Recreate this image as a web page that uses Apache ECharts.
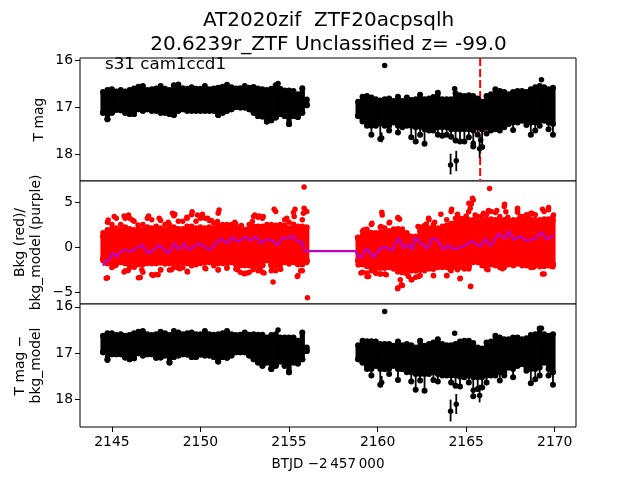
<!DOCTYPE html>
<html><head><meta charset="utf-8">
<style>html,body{margin:0;padding:0;background:#fff}#c{width:640px;height:480px}</style>
<script src="https://cdn.jsdelivr.net/npm/echarts@6/dist/echarts.min.js"></script>
</head><body><div id="c"></div>
<script>
const titleLines = "AT2020zif  ZTF20acpsqlh\n20.6239r_ZTF Unclassified z= -99.0";
const sectorLabel = "s31 cam1ccd1";
const xName = "BTJD \u22122\u2009457\u2009000";
const xTicks = [2145,2150,2155,2160,2165,2170];
const magTicks = [16,17,18];
const bkgTicks = [-5,0,5];
const eventDay = 2165.79;

const daysLeft = [2144.5,2144.75,2145,2145.25,2145.5,2145.75,2146,2146.25,2146.5,2146.75,2147,2147.25,2147.5,2147.75,2148,2148.25,2148.5,2148.75,2149,2149.25,2149.5,2149.75,2150,2150.25,2150.5,2150.75,2151,2151.25,2151.5,2151.75,2152,2152.25,2152.5,2152.75,2153,2153.25,2153.5,2153.75,2154,2154.25,2154.5,2154.75,2155,2155.25,2155.5,2155.75,2156];
const daysRight = [2158.9,2159.15,2159.4,2159.65,2159.9,2160.15,2160.4,2160.65,2160.9,2161.15,2161.4,2161.65,2161.9,2162.15,2162.4,2162.65,2162.9,2163.15,2163.4,2163.65,2163.9,2164.15,2164.4,2164.65,2164.9,2165.15,2165.4,2165.65,2165.9,2166.15,2166.4,2166.65,2166.9,2167.15,2167.4,2167.65,2167.9,2168.15,2168.4,2168.65,2168.9,2169.15,2169.4,2169.65,2169.9];

const tmagTopL = [16.67,16.63,16.615,16.66,16.63,16.66,16.63,16.595,16.56,16.545,16.63,16.615,16.595,16.545,16.60,16.63,16.53,16.51,16.59,16.60,16.57,16.60,16.60,16.545,16.615,16.595,16.58,16.56,16.52,16.57,16.595,16.59,16.545,16.58,16.565,16.595,16.615,16.63,16.60,16.53,16.60,16.64,16.64,16.65,16.72,16.59,16.83];
const tmagBotL = [17.11,17.25,17.11,17.05,17.06,17.11,17.14,17.14,17.04,17.07,17.04,17.07,17.07,17.11,17.11,17.14,17.16,17.07,17.04,17.07,17.07,17.07,17.07,17.07,17.07,17.07,17.16,17.11,17.07,17.04,16.99,17.0,17.0,17.04,17.11,17.18,17.19,17.30,17.27,17.21,17.14,17.18,17.35,17.18,17.2,17.11,16.95];
const tmagTopR = [16.88,16.77,16.755,16.79,16.825,16.85,16.825,16.81,16.86,16.77,16.86,16.79,16.84,16.825,16.73,16.825,16.81,16.78,16.685,16.825,16.825,16.825,16.70,16.74,16.755,16.74,16.755,16.81,16.88,16.755,16.72,16.615,16.65,16.67,16.72,16.67,16.65,16.65,16.67,16.615,16.57,16.545,16.57,16.615,16.58];
const tmagBotR = [17.18,17.30,17.39,17.58,17.39,17.67,17.39,17.49,17.32,17.53,17.42,17.39,17.63,17.72,17.58,17.77,17.49,17.49,17.58,17.6,17.58,17.62,17.7,17.72,17.72,17.63,17.83,17.58,17.84,17.55,17.49,17.46,17.49,17.42,17.35,17.48,17.32,17.28,17.37,17.58,17.49,17.39,17.28,17.46,17.58];
const tmagBodyR = [17.18,17.25,17.32,17.39,17.34,17.34,17.34,17.39,17.30,17.39,17.35,17.34,17.39,17.42,17.41,17.46,17.42,17.39,17.42,17.42,17.42,17.46,17.46,17.46,17.46,17.46,17.49,17.42,17.46,17.42,17.39,17.39,17.39,17.37,17.32,17.32,17.28,17.25,17.30,17.32,17.32,17.28,17.25,17.32,17.35];

const bkgTipTopL = [1.59,2.75,2.50,3.22,2.50,3.22,3.22,2.86,2.13,2.50,3.22,3.04,2.31,2.97,2.50,2.50,3.48,2.86,2.86,3.22,3.59,2.86,3.22,3.22,2.97,2.68,3.77,2.50,2.50,2.50,2.50,2.13,1.95,2.50,3.41,3.33,3.22,2.50,2.50,3.95,2.50,3.04,2.75,3.84,2.31,3.04,3.95];
const bkgTipBotL = [-1.52,-3.41,-2.25,-1.95,-1.70,-2.61,-2.25,-2.17,-3.41,-2.79,-1.81,-3.05,-3.05,-2.54,-1.88,-2.54,-2.25,-2.32,-2.25,-2.68,-2.06,-1.95,-1.81,-2.32,-1.70,-2.06,-2.54,-1.81,-2.25,-1.70,-2.43,-2.79,-2.90,-2.79,-2.25,-2.61,-2.79,-1.52,-2.61,-2.61,-2.43,-1.70,-1.88,-1.70,-3.16,-2.61,-1.70];
const bkgTipTopR = [1.04,1.77,1.95,2.50,1.59,2.20,2.13,2.68,2.02,3.22,2.02,1.59,1.22,1.22,2.24,2.39,3.04,2.50,2.13,2.31,3.04,3.95,3.22,3.22,3.22,4.86,5.23,3.41,3.48,3.59,3.95,3.84,3.41,4.5,2.97,3.04,4.14,3.41,3.59,3.77,3.59,3.04,3.95,4.14,3.41];
const bkgTipBotR = [-1.95,-2.79,-3.27,-2.61,-2.90,-2.97,-2.97,-2.25,-2.43,-4.50,-4.25,-2.97,-3.63,-3.34,-3.16,-2.61,-2.43,-3.16,-2.25,-2.25,-3.16,-2.61,-2.25,-3.52,-2.43,-2.43,-1.70,-1.70,-2.06,-2.43,-1.95,-2.06,-2.25,-2.25,-1.95,-1.95,-1.88,-2.06,-2.06,-2.25,-2.06,-2.17,-2.97,-2.06,-2.17];
const bkgBodyTopL = [1.2,1.9,2.0,2.1,1.9,2.2,2.0,1.9,1.8,1.9,2.2,2.1,1.9,2.1,1.9,2.1,2.2,2.0,2.0,2.3,2.3,2.1,2.2,2.1,2.2,2.1,2.4,2.1,2.0,2.1,2.1,1.9,1.7,2.1,2.3,2.3,2.3,2.1,2.1,2.4,2.1,2.4,2.1,2.5,2.0,2.3,2.2];
const bkgBodyBotL = [-1.3,-1.8,-1.7,-1.6,-1.4,-1.8,-1.8,-1.6,-1.9,-1.9,-1.5,-1.8,-1.8,-1.7,-1.6,-1.8,-1.7,-1.8,-1.7,-1.8,-1.7,-1.6,-1.5,-1.7,-1.5,-1.7,-1.8,-1.6,-1.8,-1.5,-1.9,-2.0,-2.0,-2.0,-1.9,-2.0,-2.0,-1.4,-2.0,-2.0,-1.9,-1.5,-1.7,-1.5,-1.9,-1.9,-1.5];
const bkgBodyTopR = [0.9,1.3,1.5,1.6,1.4,1.6,1.7,1.8,1.7,2.0,1.7,1.4,1.0,1.1,1.8,1.9,2.1,2.1,1.9,2.1,2.4,2.6,2.7,2.8,2.8,3.0,3.0,2.8,3.0,3.0,3.1,3.0,3.0,3.0,2.6,2.8,3.0,3.0,3.1,3.1,3.0,2.8,3.1,3.1,3.0];
const bkgBodyBotR = [-1.5,-1.9,-2.1,-2.2,-2.3,-2.3,-2.3,-2.0,-2.2,-2.7,-2.8,-2.5,-2.6,-2.6,-2.5,-2.3,-2.2,-2.4,-2.0,-2.0,-2.2,-2.1,-2.0,-2.2,-2.1,-2.1,-1.5,-1.5,-1.8,-2.0,-1.7,-1.8,-1.9,-1.9,-1.7,-1.7,-1.6,-1.8,-1.8,-1.9,-1.8,-1.9,-2.1,-1.8,-1.9];
const bkgLooseTop = [[2144.79,3.02],[2145.13,3.39],[2145.69,3.46],[2145.94,3.58],[2146.16,3.02],[2146.48,2.47],[2147.07,3.46],[2147.67,3.21],[2148.18,2.76],[2148.42,3.76],[2148.55,3.65],[2149.23,3.32],[2149.53,3.94],[2149.83,3.58],[2150.11,3.65],[2150.4,3.21],[2150.62,2.95],[2151.05,4.13],[2150.96,2.84],[2151.94,2.76],[2152.31,2.39],[2153.07,3.58],[2153.31,3.46],[2153.54,3.39],[2152.93,2.84],[2154.16,4.2],[2154.87,3.21],[2155.34,4.2],[2155.29,3.39],[2155.85,4.31],[2155.81,3.76],
 [2158.87,1.1],[2159.21,1.9],[2159.36,1.99],[2159.68,2.65],[2160.19,2.28],[2160.68,2.76],[2160.24,3.87],[2160.26,3.58],[2161.15,3.28],[2161.24,3.1],[2162.28,2.28],[2162.41,1.99],[2162.88,3.21],[2162.75,2.58],[2163.22,2.76],[2163.57,3.65],[2164.18,4.2],[2164.51,3.65],[2165,3.46],[2165.14,3.94],[2165.29,4.79],[2165.36,5.42],[2165.23,4.31],[2165.51,3.58],[2165.98,3.76],[2166.26,4.06],[2166.73,4.06],[2167.17,4.76],[2167.24,3.94],[2167.35,3.32],[2167.9,4.31],[2167.9,3.87],[2168.05,3.39],[2168.71,3.76],[2168.52,3.58],[2169.31,4.2],[2169.65,4.39],[2169.93,3.58]];
const bkgLooseBot = [[2144.68,-3.44],[2145.18,-2.07],[2145.69,-2.77],[2145.92,-2.59],[2146.26,-2.22],[2146.6,-3.36],[2146.69,-2.51],[2147.33,-3.14],[2147.61,-3.07],[2147.76,-2.51],[2148.36,-2.51],[2148.83,-2.40],[2149.27,-2.77],[2150.3,-2.40],[2150.77,-1.96],[2151,-2.51],[2151.49,-2.33],[2152.09,-2.51],[2152.46,-2.96],[2152.65,-2.88],[2152.97,-2.51],[2153.37,-2.51],[2153.59,-2.88],[2154.06,-2.44],[2154.53,-2.44],[2155.47,-3.25],[2155.66,-2.62],
 [2158.93,-1.96],[2159.06,-2.88],[2159.49,-3.25],[2159.4,-2.88],[2159.92,-2.88],[2160.15,-2.99],[2160.49,-3.07],[2161.13,-4.62],[2161.34,-4.17],[2161.28,-3.62],[2161.94,-3.62],[2161.75,-3.25],[2162.31,-3.25],[2163.16,-3.18],[2163.91,-3.18],[2164.1,-2.51],[2164.51,-2.51],[2164.67,-3.44],[2165.14,-2.33],[2165.25,-4.36],[2165.98,-2.03],[2166.23,-2.51],[2167.05,-2.4],[2167.67,-2.07],[2168.8,-2.22],[2169.31,-2.99],[2169.84,-2.14]];

const corrTopL = [16.625,16.568,16.568,16.61,16.59,16.625,16.61,16.568,16.54,16.52,16.59,16.61,16.59,16.54,16.568,16.61,16.52,16.553,16.59,16.568,16.553,16.59,16.59,16.52,16.59,16.603,16.59,16.568,16.52,16.59,16.61,16.603,16.553,16.603,16.59,16.603,16.603,16.66,16.61,16.59,16.66,16.66,16.66,16.66,16.73,16.553,16.876];
const corrBotL = [16.98,17.14,17.02,17.02,17.02,17.09,17.13,17.11,17.0,17.05,17.02,17.02,17.10,17.09,17.05,17.2,17.08,17.05,17.02,17.03,17.08,17.08,17.03,17.05,17.05,17.08,17.18,17.08,17.10,17.05,16.98,16.98,16.98,17.05,17.13,17.2,17.27,17.2,17.34,17.27,17.18,17.27,17.41,17.2,17.22,17.13,16.95];
const corrTopR = [16.83,16.73,16.74,16.74,16.75,16.80,16.80,16.80,16.84,16.75,16.83,16.80,16.83,16.876,16.73,16.84,16.80,16.77,16.70,16.80,16.83,16.83,16.80,16.75,16.73,16.73,16.78,16.876,16.90,16.77,16.75,16.625,16.66,16.70,16.70,16.66,16.66,16.70,16.68,16.61,16.59,16.47,16.59,16.625,16.59];
const corrBotR = [17.13,17.2,17.34,17.48,17.27,17.68,17.34,17.45,17.27,17.58,17.34,17.41,17.61,17.79,17.59,17.81,17.45,17.58,17.61,17.48,17.48,17.63,17.70,17.72,17.52,17.63,17.93,17.77,17.74,17.63,17.48,17.48,17.59,17.48,17.31,17.52,17.27,17.23,17.38,17.65,17.56,17.48,17.2,17.48,17.68];
const corrBodyR = [17.13,17.2,17.27,17.34,17.27,17.34,17.34,17.34,17.27,17.34,17.34,17.34,17.41,17.45,17.45,17.45,17.41,17.41,17.45,17.45,17.45,17.48,17.48,17.51,17.48,17.48,17.52,17.52,17.52,17.48,17.45,17.41,17.41,17.41,17.31,17.34,17.27,17.23,17.31,17.34,17.34,17.31,17.2,17.34,17.41];

const tmagLone = [[2160.4,16.11],[2164.35,16.60],[2154.38,16.49],[2169.25,16.41],[2165.82,17.69],[2165.4,17.76]];
const tmagBars = [[2164.12,18.22,17.98,18.42],[2164.44,18.13,17.92,18.35],[2165.76,17.875,17.69,18.07],[2160.23,17.65,17.53,17.74]];
const corrLone = [[2160.4,16.10],[2164.35,16.57],[2154.38,16.5],[2169.25,16.46],[2165.4,17.80]];
const corrBars = [[2164.12,18.25,18.0,18.47],[2164.44,18.10,17.88,18.31],[2165.76,17.91,17.68,18.06],[2160.23,17.63,17.49,17.73]];
const bkgLone = [[2155.85,6.67],[2156.04,-5.61],[2154.1,-3.86],[2166.32,6.52],[2165.25,-4.34]];
const modelDays = [2144.51,2144.6,2144.85,2145.03,2145.28,2145.5,2145.79,2146.07,2146.35,2146.73,2147.01,2147.29,2147.67,2148.18,2148.51,2148.8,2149.08,2149.36,2149.93,2150.49,2151.15,2151.52,2151.81,2152.09,2152.56,2152.84,2153.12,2153.41,2153.69,2154.06,2154.35,2154.63,2155,2155.19,2155.47,2155.75,2155.89,2158.74,2159.02,2159.4,2159.77,2160.15,2160.43,2160.81,2161.19,2161.47,2161.75,2161.94,2162.13,2162.41,2162.82,2163.07,2163.35,2163.72,2164.01,2164.29,2164.85,2165.32,2165.79,2166.08,2166.36,2166.83,2167.2,2167.39,2167.67,2168.05,2168.43,2168.9,2169.27,2169.56,2169.93];
const modelVals = [-2.08,-1.61,-1.42,-0.62,-1.07,-0.51,-0.26,-0.51,-0.15,0.22,-0.69,-0.40,0.22,-0.69,0.40,-0.33,0.40,-0.33,0.47,-0.33,0.94,0.40,1.13,0.58,1.13,0.69,1.20,0.40,0.84,0.76,0.22,1.05,0.94,1.31,0.58,0.58,-0.44,-0.44,-1.24,-0.15,-1.13,-0.15,0.03,-0.40,1.05,-0.15,0.40,-0.33,1.13,0.47,-0.15,0.95,0.84,-0.26,0.22,-0.26,0.11,0.69,0.03,0.95,0.11,1.49,0.95,1.78,0.84,1.20,0.69,0.95,1.67,0.84,1.31];

const days = daysLeft.concat(daysRight);
const band = (top,bot,body) => days.map((d,i)=>[d,top[i],bot[i],body?Math.min(body[i],bot[i]):bot[i]]);
const DOT = 5.5;
function bandSeries(data,color,g,z){
  return {type:'custom',xAxisIndex:g,yAxisIndex:g,z,silent:true,animation:false,
    encode:{x:0,y:[1,2,3]},data,
    renderItem(p,api){
      const x=api.value(0);
      const a=api.coord([x,api.value(1)]),b=api.coord([x,api.value(2)]),c=api.coord([x,api.value(3)]);
      return {type:'group',children:[
        {type:'line',shape:{x1:b[0],y1:b[1],x2:c[0],y2:c[1]},style:{stroke:color,lineWidth:1.8}},
        {type:'line',shape:{x1:a[0],y1:a[1],x2:c[0],y2:c[1]},style:{stroke:color,lineWidth:5.2}},
        {type:'circle',shape:{cx:a[0],cy:a[1],r:3},style:{fill:color}},
        {type:'circle',shape:{cx:c[0],cy:c[1],r:3},style:{fill:color}},
        {type:'circle',shape:{cx:b[0],cy:b[1],r:3},style:{fill:color}}
      ]};
    }};
}
function barSeries(data,g,z){
  return {type:'custom',xAxisIndex:g,yAxisIndex:g,z,silent:true,animation:false,
    encode:{x:0,y:[1,2,3]},data,
    renderItem(p,api){
      const m=api.coord([api.value(0),api.value(1)]),a=api.coord([api.value(0),api.value(2)]),b=api.coord([api.value(0),api.value(3)]);
      return {type:'group',children:[
        {type:'line',shape:{x1:a[0],y1:a[1],x2:b[0],y2:b[1]},style:{stroke:'#000',lineWidth:1.8}},
        {type:'circle',shape:{cx:m[0],cy:m[1],r:DOT/2},style:{fill:'#000'}}
      ]};
    }};
}
const dots=(data,color,g,z)=>({type:'scatter',xAxisIndex:g,yAxisIndex:g,z,silent:true,animation:false,symbolSize:DOT,itemStyle:{color,opacity:1},data});
const tips=(d,v)=>d.map((x,i)=>[x,v[i]]);

const FONT='"DejaVu Sans"';
const XMIN=2143.2,XMAX=2171.2;
const base={left:80,width:496,height:123,show:true,borderColor:'#000',borderWidth:1,backgroundColor:'#fff',outerBoundsMode:'none',containLabel:false};
const xa=(g,full)=>({type:'value',gridIndex:g,min:XMIN,max:XMAX,splitLine:{show:false},
  axisLine:{show:false},
  axisTick:{show:full,length:5,customValues:xTicks,lineStyle:{color:'#000',width:1}},
  axisLabel:{show:full,customValues:xTicks,color:'#000',fontFamily:FONT,fontSize:13.9,margin:8,formatter:v=>String(v)},
  name:full?xName:'',nameLocation:'middle',nameGap:30,nameTextStyle:{color:'#000',fontFamily:FONT,fontSize:13.5}});
const ya=(g,min,max,ticks,inv,name,gap)=>({type:'value',gridIndex:g,min,max,inverse:inv,splitLine:{show:false},
  axisLine:{show:false},
  axisTick:{show:true,length:5,customValues:ticks,lineStyle:{color:'#000',width:1}},
  axisLabel:{customValues:ticks,color:'#000',fontFamily:FONT,fontSize:13.9,margin:7,formatter:v=>String(v).replace('-','\u2212')},
  name,nameLocation:'middle',nameRotate:90,nameGap:gap,nameMoveOverlap:false,nameTextStyle:{color:'#000',fontFamily:FONT,fontSize:13.9,lineHeight:16}});

const option={
  backgroundColor:'#fff',animation:false,
  title:[
    {text:titleLines,left:328.5,top:9,padding:0,textAlign:'center',textStyle:{color:'#000',fontFamily:FONT,fontSize:20,fontWeight:'normal',lineHeight:24}},
    {text:sectorLabel,left:105,top:56.5,padding:0,textStyle:{color:'#000',fontFamily:FONT,fontSize:16.7,fontWeight:'normal'}}
  ],
  grid:[Object.assign({top:58},base),Object.assign({top:181},base),Object.assign({top:304},base)],
  xAxis:[xa(0,false),xa(1,false),xa(2,true)],
  yAxis:[
    ya(0,15.95,18.56,magTicks,true,'T mag',33),
    ya(1,-6.31,7.34,bkgTicks,false,'Bkg (red)/\nbkg_model (purple)',36),
    ya(2,15.94,18.59,magTicks,true,'T mag \u2212\nbkg_model',36)
  ],
  series:[
    {type:'line',xAxisIndex:0,yAxisIndex:0,z:2,silent:true,animation:false,symbol:'none',
     data:[[eventDay,15.95],[eventDay,18.56]],lineStyle:{color:'#ff0000',width:2,type:[8,3]}},
    bandSeries(band(tmagTopL.concat(tmagTopR),tmagBotL.concat(tmagBotR),tmagBotL.concat(tmagBodyR)),'#000',0,3),
    barSeries(tmagBars,0,3),
    dots(tmagLone,'#000',0,3),
    bandSeries(band(bkgBodyTopL.concat(bkgBodyTopR),bkgBodyBotL.concat(bkgBodyBotR)),'#ff0000',1,3),
    dots(tips(days,bkgTipTopL.concat(bkgTipTopR)),'#ff0000',1,3),
    dots(tips(days,bkgTipBotL.concat(bkgTipBotR)),'#ff0000',1,3),
    dots(bkgLooseTop,'#ff0000',1,3),
    dots(bkgLooseBot,'#ff0000',1,3),
    dots(bkgLone,'#ff0000',1,3),
    {type:'line',xAxisIndex:1,yAxisIndex:1,z:4,silent:true,animation:false,symbol:'none',
     data:modelDays.map((d,i)=>[d,modelVals[i]]),lineStyle:{color:'#bf00bf',width:2.4}},
    bandSeries(band(corrTopL.concat(corrTopR),corrBotL.concat(corrBotR),corrBotL.concat(corrBodyR)),'#000',2,3),
    barSeries(corrBars,2,3),
    dots(corrLone,'#000',2,3)
  ]
};
echarts.init(document.getElementById('c'),null,{renderer:'canvas'}).setOption(option);
</script></body></html>
